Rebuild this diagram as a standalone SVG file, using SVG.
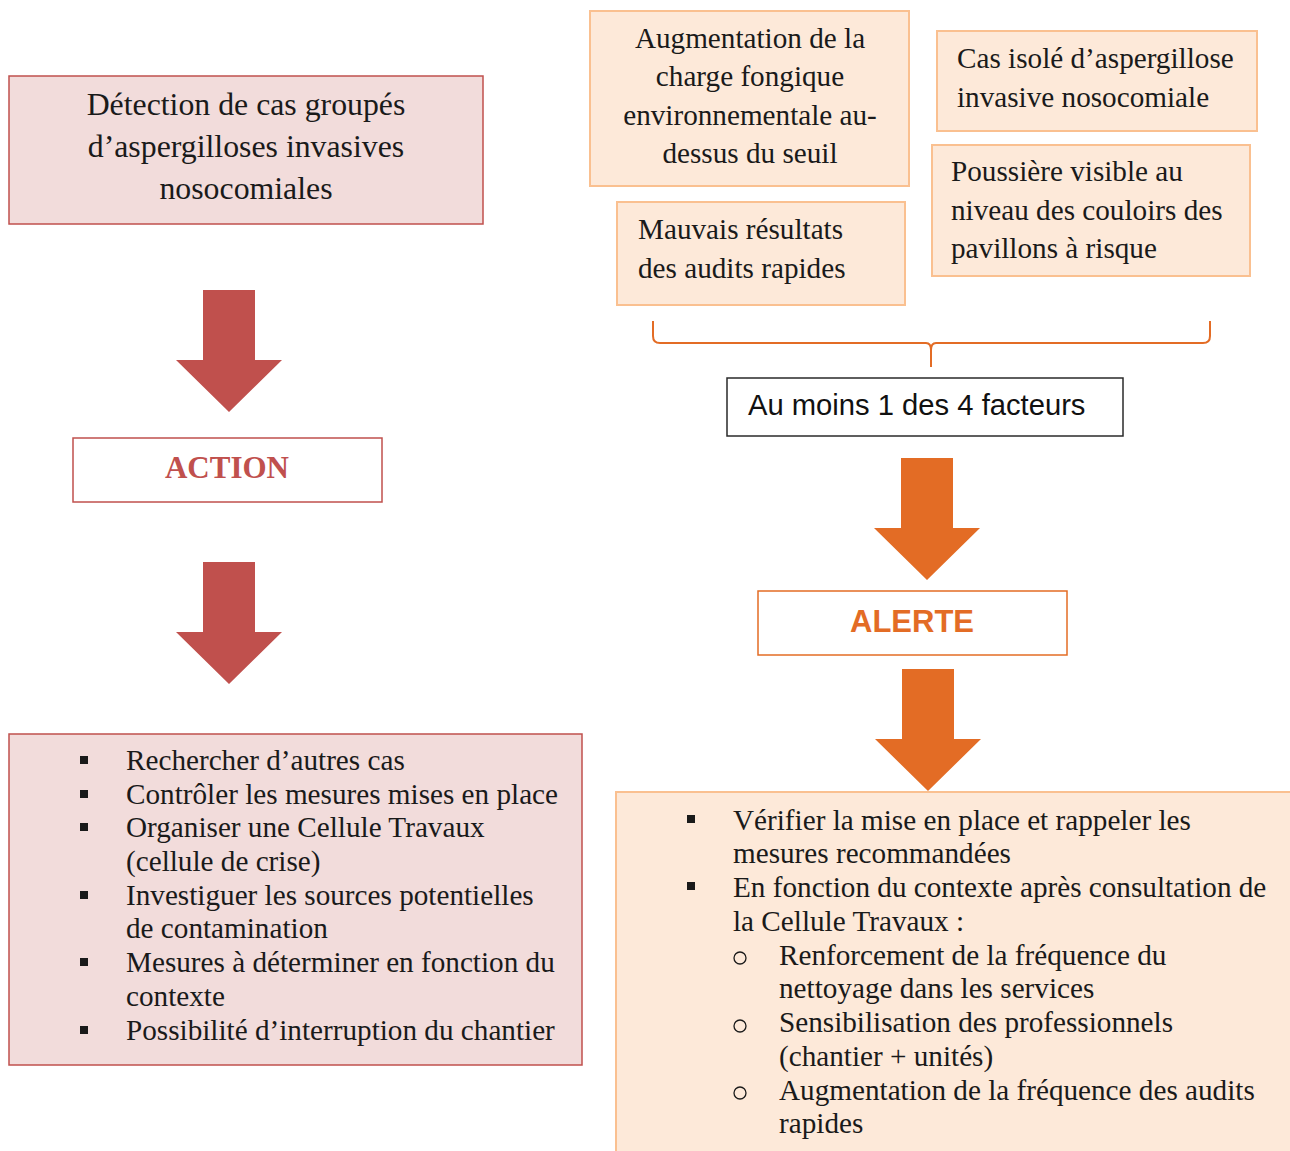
<svg xmlns="http://www.w3.org/2000/svg" width="1290" height="1151" viewBox="0 0 1290 1151">
<style>
.serif{font-family:"Liberation Serif","Times New Roman",serif;font-size:29.2px;fill:#1a1a1a}
.pink{fill:#f2dcdb;stroke:#c0504d;stroke-width:1.5}
.peach{fill:#fde9d9;stroke:#fac090;stroke-width:2}
.red{fill:#c0504d}
.orange{fill:#e36c25}
.sq{fill:#1a1a1a}
.circ{fill:none;stroke:#1a1a1a;stroke-width:1.3}
</style>
<defs>
<path id="arrow" d="M0,0 H52 V70 H79 L26,122 L-27,70 H0 Z"/>
</defs>
<rect width="1290" height="1151" fill="#ffffff"/>

<g id="detection">
<rect class="pink" x="9" y="76" width="474" height="148"/>
<text class="serif" style="font-size:31.8px" text-anchor="middle"><tspan x="246" y="115">Détection de cas groupés</tspan><tspan x="246" y="157">d’aspergilloses invasives</tspan><tspan x="246" y="199">nosocomiales</tspan></text>
</g>

<g id="augmentation">
<rect class="peach" x="590" y="11" width="319" height="175"/>
<text class="serif" text-anchor="middle"><tspan x="750" y="48">Augmentation de la</tspan><tspan x="750" y="86">charge fongique</tspan><tspan x="750" y="125">environnementale au-</tspan><tspan x="750" y="163">dessus du seuil</tspan></text>
</g>

<g id="cas-isole">
<rect class="peach" x="937" y="31" width="320" height="100"/>
<text class="serif"><tspan x="957" y="68">Cas isolé d’aspergillose</tspan><tspan x="957" y="107">invasive nosocomiale</tspan></text>
</g>

<g id="poussiere">
<rect class="peach" x="932" y="145" width="318" height="131"/>
<text class="serif"><tspan x="951" y="181">Poussière visible au</tspan><tspan x="951" y="220">niveau des couloirs des</tspan><tspan x="951" y="258">pavillons à risque</tspan></text>
</g>

<g id="mauvais">
<rect class="peach" x="617" y="202" width="288" height="103"/>
<text class="serif"><tspan x="638" y="239">Mauvais résultats</tspan><tspan x="638" y="278">des audits rapides</tspan></text>
</g>

<g id="au-moins">
<rect x="727" y="378" width="396" height="58" fill="#ffffff" stroke="#2a2a2a" stroke-width="1.5"/>
<text x="748" y="415" style="font-family:'Liberation Sans',Arial,sans-serif;font-size:29.2px;fill:#111">Au moins 1 des 4 facteurs</text>
</g>

<g id="action">
<rect x="73" y="438" width="309" height="64" fill="#ffffff" stroke="#c0504d" stroke-width="1.5"/>
<text x="227" y="478" text-anchor="middle" style="font-family:'Liberation Serif','Times New Roman',serif;font-size:31px;font-weight:bold;fill:#c0504d">ACTION</text>
</g>

<g id="alerte">
<rect x="758" y="591" width="309" height="64" fill="#ffffff" stroke="#e36c25" stroke-width="1.5"/>
<text x="912" y="632" text-anchor="middle" style="font-family:'Liberation Sans',Arial,sans-serif;font-size:31px;font-weight:bold;fill:#e36c25">ALERTE</text>
</g>

<g id="mesures-action">
<rect class="pink" x="9" y="734" width="573" height="331"/>
<g class="sq">
<rect x="80" y="756" width="8" height="8"/>
<rect x="80" y="790" width="8" height="8"/>
<rect x="80" y="823" width="8" height="8"/>
<rect x="80" y="891" width="8" height="8"/>
<rect x="80" y="958" width="8" height="8"/>
<rect x="80" y="1026" width="8" height="8"/>
</g>
<text class="serif"><tspan x="126" y="770">Rechercher d’autres cas</tspan><tspan x="126" y="804">Contrôler les mesures mises en place</tspan><tspan x="126" y="837">Organiser une Cellule Travaux</tspan><tspan x="126" y="871">(cellule de crise)</tspan><tspan x="126" y="905">Investiguer les sources potentielles</tspan><tspan x="126" y="938">de contamination</tspan><tspan x="126" y="972">Mesures à déterminer en fonction du</tspan><tspan x="126" y="1006">contexte</tspan><tspan x="126" y="1040">Possibilité d’interruption du chantier</tspan></text>
</g>

<g id="mesures-alerte">
<rect class="peach" x="616" y="792" width="680" height="380"/>
<g class="sq">
<rect x="687" y="815" width="8" height="8"/>
<rect x="687" y="882" width="8" height="8"/>
</g>
<g class="circ">
<circle cx="740" cy="958" r="6"/>
<circle cx="740" cy="1026" r="6"/>
<circle cx="740" cy="1093" r="6"/>
</g>
<text class="serif"><tspan x="733" y="830">Vérifier la mise en place et rappeler les</tspan><tspan x="733" y="863">mesures recommandées</tspan><tspan x="733" y="897">En fonction du contexte après consultation de</tspan><tspan x="733" y="931">la Cellule Travaux :</tspan><tspan x="779" y="965">Renforcement de la fréquence du</tspan><tspan x="779" y="998">nettoyage dans les services</tspan><tspan x="779" y="1032">Sensibilisation des professionnels</tspan><tspan x="779" y="1066">(chantier + unités)</tspan><tspan x="779" y="1100">Augmentation de la fréquence des audits</tspan><tspan x="779" y="1133">rapides</tspan></text>
</g>

<g id="connectors">
<path d="M653,321 V336 Q653,343 660,343 H926 Q931,343 931,350 V367 M931,350 Q931,343 936,343 H1203 Q1210,343 1210,336 V321" fill="none" stroke="#e36c25" stroke-width="2"/>
<use href="#arrow" class="red" transform="translate(203,290)"/>
<use href="#arrow" class="red" transform="translate(203,562)"/>
<use href="#arrow" class="orange" transform="translate(901,458)"/>
<use href="#arrow" class="orange" transform="translate(902,669)"/>
</g>
</svg>
